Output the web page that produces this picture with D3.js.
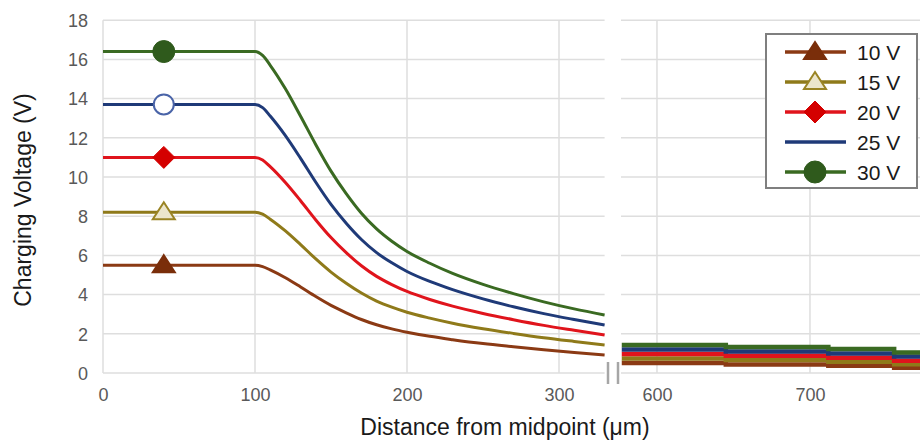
<!DOCTYPE html>
<html>
<head>
<meta charset="utf-8">
<script src="https://cdn.jsdelivr.net/npm/d3@7"></script>
<style>
  body { margin: 0; background: #fff; }
  svg { display: block; font-family: "Liberation Sans", Arial, sans-serif; }
</style>
</head>
<body>
<div id="chart"></div>
<script>
// data (distance in um, voltage in V)
var distLeft = [0, 100, 105, 110, 120, 130, 140, 150, 160, 170, 180, 190, 200, 215, 230, 250, 270, 290, 310, 330]
var v10 = [5.5, 5.5, 5.43, 5.26, 4.86, 4.39, 3.9, 3.45, 3.07, 2.73, 2.46, 2.25, 2.08, 1.87, 1.7, 1.5, 1.34, 1.19, 1.05, 0.92]
var v15 = [8.2, 8.2, 8.1, 7.85, 7.25, 6.55, 5.82, 5.15, 4.58, 4.08, 3.67, 3.36, 3.1, 2.8, 2.54, 2.26, 2.02, 1.8, 1.61, 1.43]
var v20 = [11.0, 11.0, 10.87, 10.53, 9.72, 8.79, 7.81, 6.91, 6.14, 5.47, 4.93, 4.51, 4.16, 3.75, 3.41, 3.04, 2.72, 2.43, 2.18, 1.94]
var v25 = [13.7, 13.7, 13.54, 13.11, 12.11, 10.95, 9.73, 8.6, 7.64, 6.81, 6.14, 5.62, 5.18, 4.67, 4.25, 3.78, 3.38, 3.03, 2.73, 2.45]
var v30 = [16.4, 16.4, 16.2, 15.7, 14.5, 13.1, 11.65, 10.3, 9.15, 8.15, 7.35, 6.72, 6.2, 5.6, 5.08, 4.52, 4.05, 3.63, 3.27, 2.96]

var distRight = [577, 645, 712, 755, 800]
var v10Right = [0.51, 0.44, 0.37, 0.27, 0.27]
var v15Right = [0.74, 0.66, 0.57, 0.45, 0.45]
var v20Right = [0.97, 0.88, 0.78, 0.63, 0.63]
var v25Right = [1.20, 1.10, 1.00, 0.84, 0.84]
var v30Right = [1.43, 1.33, 1.22, 1.05, 1.05]

var seriesNames = ["10 V", "15 V", "20 V", "25 V", "30 V"]
var markerDist = 40

var yTicks = [0, 2, 4, 6, 8, 10, 12, 14, 16, 18]
var xTicksLeft = [0, 100, 200, 300]
var xTicksRight = [600, 700]

var leftData = [v10, v15, v20, v25, v30]
var rightData = [v10Right, v15Right, v20Right, v25Right, v30Right]

var styles = [
  {line: "#8b3a14", marker: "triUp", fill: "#7a2e0a", stroke: "#7a2e0a"},
  {line: "#8f7a1a", marker: "triOpen", fill: "#ece6cc", stroke: "#9a8424"},
  {line: "#e0141c", marker: "diamond", fill: "#d40000", stroke: "#d40000"},
  {line: "#1f3a78", marker: "circleOpen", fill: "#ffffff", stroke: "#4a64a8"},
  {line: "#3a6a22", marker: "circle", fill: "#2f5a1c", stroke: "#2f5a1c"}
]

var width = 920
var height = 443

var svg = d3.select("#chart").append("svg")
  .attr("width", width)
  .attr("height", height)

var y = d3.scaleLinear().domain([0, 18]).range([373, 20.2])
var xL = d3.scaleLinear().domain([0, 330]).range([103, 604.6])
var xR = d3.scaleLinear().domain([576.5, 800]).range([621, 963])

var grid = svg.append("g").attr("stroke", "#dedede").attr("stroke-width", 1.5)

// horizontal gridlines, two panels
yTicks.forEach(function(t) {
  grid.append("line").attr("x1", xL(0)).attr("x2", xL(330)).attr("y1", y(t)).attr("y2", y(t))
  grid.append("line").attr("x1", xR(576.5)).attr("x2", width).attr("y1", y(t)).attr("y2", y(t))
})
xTicksLeft.forEach(function(t) {
  grid.append("line").attr("x1", xL(t)).attr("x2", xL(t)).attr("y1", y(0)).attr("y2", y(18))
})
xTicksRight.forEach(function(t) {
  grid.append("line").attr("x1", xR(t)).attr("x2", xR(t)).attr("y1", y(0)).attr("y2", y(18))
})

// axes (labels only)
var yAxis = svg.append("g")
  .attr("transform", "translate(88,0)")
  .call(d3.axisLeft(y).tickValues(yTicks).tickSize(0).tickPadding(0))
var xAxisL = svg.append("g")
  .attr("transform", "translate(0,388)")
  .call(d3.axisBottom(xL).tickValues(xTicksLeft).tickSize(0).tickPadding(0))
var xAxisR = svg.append("g")
  .attr("transform", "translate(0,388)")
  .call(d3.axisBottom(xR).tickValues(xTicksRight).tickSize(0).tickPadding(0))

;[yAxis, xAxisL, xAxisR].forEach(function(a) {
  a.select(".domain").remove()
  a.selectAll("text")
    .style("font-family", '"Liberation Sans", Arial, sans-serif')
    .style("font-size", "18px")
    .attr("fill", "#595959")
})
yAxis.selectAll("text").attr("dy", "0.35em")
xAxisL.selectAll("text").attr("dy", "0.7em")
xAxisR.selectAll("text").attr("dy", "0.7em")

// axis break marks
svg.append("line").attr("x1", 608).attr("x2", 608).attr("y1", 362).attr("y2", 384)
  .attr("stroke", "#a6a6a6").attr("stroke-width", 2.5)
svg.append("line").attr("x1", 618).attr("x2", 618).attr("y1", 362).attr("y2", 384)
  .attr("stroke", "#a6a6a6").attr("stroke-width", 2.5)

// titles
svg.append("text")
  .attr("x", 505).attr("y", 435)
  .attr("text-anchor", "middle")
  .style("font-size", "23px")
  .attr("fill", "#1a1a1a")
  .text("Distance from midpoint (μm)")
svg.append("text")
  .attr("transform", "translate(31,200)rotate(-90)")
  .attr("text-anchor", "middle")
  .style("font-size", "23px")
  .attr("fill", "#1a1a1a")
  .text("Charging Voltage (V)")

// curves
var lineL = d3.line()
  .x(function(d) { return xL(d[0]) })
  .y(function(d) { return y(d[1]) })
  .curve(d3.curveMonotoneX)
var lineR = d3.line()
  .x(function(d) { return xR(d[0]) })
  .y(function(d) { return y(d[1]) })
  .curve(d3.curveStepAfter)

for(var i = 0; i < leftData.length; i++)
{
  var pts = distLeft.map(function(d, j) { return [d, leftData[i][j]] })
  svg.append("path")
    .attr("d", lineL(pts))
    .attr("fill", "none")
    .attr("stroke", styles[i].line)
    .attr("stroke-width", 3)
  var ptsR = distRight.map(function(d, j) { return [d, rightData[i][j]] })
  svg.append("path")
    .attr("d", lineR(ptsR))
    .attr("fill", "none")
    .attr("stroke", styles[i].line)
    .attr("stroke-width", 4.5)
}

function drawMarker(g, kind, cx, cy, s)
{
  if(kind == "triUp" || kind == "triOpen")
  {
    g.append("path")
      .attr("d", "M" + cx + "," + (cy - 10) + "L" + (cx + 11) + "," + (cy + 7) + "L" + (cx - 11) + "," + (cy + 7) + "Z")
      .attr("fill", s.fill).attr("stroke", s.stroke).attr("stroke-width", 2)
  }
  else if(kind == "diamond")
  {
    g.append("path")
      .attr("d", "M" + cx + "," + (cy - 11) + "L" + (cx + 11) + "," + cy + "L" + cx + "," + (cy + 11) + "L" + (cx - 11) + "," + cy + "Z")
      .attr("fill", s.fill).attr("stroke", s.stroke).attr("stroke-width", 1)
  }
  else if(kind == "circleOpen")
  {
    g.append("circle").attr("cx", cx).attr("cy", cy).attr("r", 10)
      .attr("fill", s.fill).attr("stroke", s.stroke).attr("stroke-width", 2)
  }
  else if(kind == "circle")
  {
    g.append("circle").attr("cx", cx).attr("cy", cy).attr("r", 11)
      .attr("fill", s.fill).attr("stroke", s.stroke).attr("stroke-width", 1)
  }
}

// markers on the plateau
var marks = svg.append("g")
for(i = 0; i < leftData.length; i++)
{
  drawMarker(marks, styles[i].marker, xL(markerDist), y(leftData[i][0]), styles[i])
}

// legend
var legend = svg.append("g")
legend.append("rect")
  .attr("x", 766).attr("y", 34).attr("width", 151).attr("height", 154)
  .attr("fill", "#fff").attr("stroke", "#7f7f7f").attr("stroke-width", 2)
for(i = 0; i < seriesNames.length; i++)
{
  var ly = 52 + i * 30
  legend.append("line")
    .attr("x1", 785).attr("x2", 846).attr("y1", ly).attr("y2", ly)
    .attr("stroke", styles[i].line).attr("stroke-width", 3.5)
  if(styles[i].marker != "circleOpen")
  {
    drawMarker(legend, styles[i].marker, 815, ly, styles[i])
  }
  legend.append("text")
    .attr("x", 857).attr("y", ly)
    .attr("dy", "0.36em")
    .style("font-size", "21px")
    .attr("fill", "#1a1a1a")
    .text(seriesNames[i])
}
</script>
</body>
</html>
